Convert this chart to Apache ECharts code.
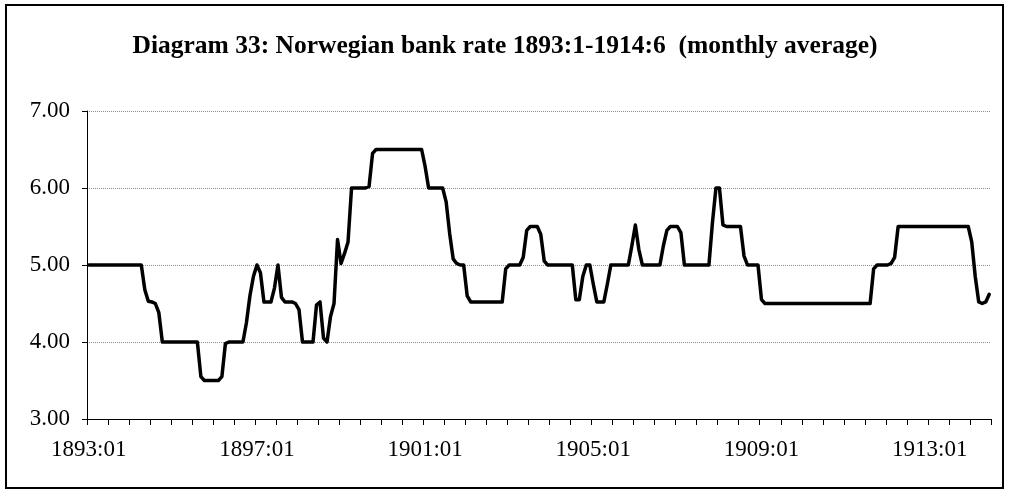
<!DOCTYPE html>
<html>
<head>
<meta charset="utf-8">
<script src="https://cdn.jsdelivr.net/npm/echarts@6/dist/echarts.min.js"></script>
<style>
  html, body { margin: 0; padding: 0; background: #ffffff; }
  #chart { width: 1010px; height: 493px; }
</style>
</head>
<body>
<div id="chart"></div>
<script>
// Norwegian bank rate, monthly averages, 1893:01 - 1914:06 (one row per year)
const rate1893 = [5.00, 5.00, 5.00, 5.00, 5.00, 5.00, 5.00, 5.00, 5.00, 5.00, 5.00, 5.00];
const rate1894 = [5.00, 5.00, 5.00, 5.00, 4.68, 4.53, 4.52, 4.50, 4.38, 4.00, 4.00, 4.00];
const rate1895 = [4.00, 4.00, 4.00, 4.00, 4.00, 4.00, 4.00, 4.00, 3.55, 3.50, 3.50, 3.50];
const rate1896 = [3.50, 3.50, 3.55, 3.98, 4.00, 4.00, 4.00, 4.00, 4.00, 4.25, 4.60, 4.85];
const rate1897 = [5.00, 4.90, 4.52, 4.52, 4.52, 4.70, 5.00, 4.58, 4.52, 4.52, 4.52, 4.50];
const rate1898 = [4.42, 4.00, 4.00, 4.00, 4.00, 4.48, 4.52, 4.05, 4.00, 4.33, 4.50, 5.33];
const rate1899 = [5.02, 5.15, 5.30, 6.00, 6.00, 6.00, 6.00, 6.00, 6.02, 6.45, 6.50, 6.50];
const rate1900 = [6.50, 6.50, 6.50, 6.50, 6.50, 6.50, 6.50, 6.50, 6.50, 6.50, 6.50, 6.50];
const rate1901 = [6.28, 6.00, 6.00, 6.00, 6.00, 6.00, 5.82, 5.41, 5.08, 5.02, 5.00, 5.00];
const rate1902 = [4.60, 4.52, 4.52, 4.52, 4.52, 4.52, 4.52, 4.52, 4.52, 4.52, 4.52, 4.95];
const rate1903 = [5.00, 5.00, 5.00, 5.00, 5.10, 5.45, 5.50, 5.50, 5.50, 5.40, 5.05, 5.00];
const rate1904 = [5.00, 5.00, 5.00, 5.00, 5.00, 5.00, 5.00, 4.55, 4.55, 4.85, 5.00, 5.00];
const rate1905 = [4.75, 4.52, 4.52, 4.52, 4.75, 5.00, 5.00, 5.00, 5.00, 5.00, 5.00, 5.25];
const rate1906 = [5.52, 5.20, 5.00, 5.00, 5.00, 5.00, 5.00, 5.00, 5.25, 5.45, 5.50, 5.50];
const rate1907 = [5.50, 5.42, 5.00, 5.00, 5.00, 5.00, 5.00, 5.00, 5.00, 5.00, 5.55, 6.00];
const rate1908 = [6.00, 5.52, 5.50, 5.50, 5.50, 5.50, 5.50, 5.12, 5.00, 5.00, 5.00, 5.00];
const rate1909 = [4.55, 4.50, 4.50, 4.50, 4.50, 4.50, 4.50, 4.50, 4.50, 4.50, 4.50, 4.50];
const rate1910 = [4.50, 4.50, 4.50, 4.50, 4.50, 4.50, 4.50, 4.50, 4.50, 4.50, 4.50, 4.50];
const rate1911 = [4.50, 4.50, 4.50, 4.50, 4.50, 4.50, 4.50, 4.50, 4.95, 5.00, 5.00, 5.00];
const rate1912 = [5.00, 5.02, 5.10, 5.50, 5.50, 5.50, 5.50, 5.50, 5.50, 5.50, 5.50, 5.50];
const rate1913 = [5.50, 5.50, 5.50, 5.50, 5.50, 5.50, 5.50, 5.50, 5.50, 5.50, 5.50, 5.50];
const rate1914 = [5.30, 4.85, 4.52, 4.50, 4.52, 4.62];

const bankRate = [].concat(
  rate1893, rate1894, rate1895, rate1896, rate1897, rate1898, rate1899, rate1900,
  rate1901, rate1902, rate1903, rate1904, rate1905, rate1906, rate1907, rate1908,
  rate1909, rate1910, rate1911, rate1912, rate1913, rate1914
);

// Month labels "YYYY:MM" from 1893:01 to 1914:06
const firstYear = 1893;
const months = [];
for (let i = 0; i < bankRate.length; i++) {
  const y = firstYear + Math.floor(i / 12);
  const m = (i % 12) + 1;
  months.push(y + ':' + (m < 10 ? '0' + m : '' + m));
}

const yTicks = [3, 4, 5, 6, 7];
const titleText = 'Diagram 33: Norwegian bank rate 1893:1-1914:6  (monthly average)';

const serif = '"Liberation Serif", "Times New Roman", serif';

const chart = echarts.init(document.getElementById('chart'), null, { renderer: 'canvas' });
chart.setOption({
  backgroundColor: '#ffffff',
  animation: false,
  title: {
    text: titleText,
    left: 'center',
    top: 28,
    textStyle: {
      fontFamily: serif,
      fontWeight: 'bold',
      fontSize: 25.5,
      color: '#000000'
    }
  },
  graphic: [{
    type: 'rect',
    shape: { x: 6, y: 5, width: 997, height: 483 },
    style: { fill: 'none', stroke: '#000000', lineWidth: 2 },
    silent: true
  }],
  grid: { left: 87, right: 19, top: 111, bottom: 74 },
  xAxis: {
    type: 'category',
    data: months,
    boundaryGap: true,
    axisLine: { show: true, lineStyle: { color: '#000000', width: 1 } },
    axisTick: { show: true, interval: 5, length: 6, lineStyle: { color: '#000000' } },
    axisLabel: {
      interval: 47,
      margin: 19,
      fontFamily: serif,
      fontSize: 23,
      color: '#000000'
    },
    splitLine: { show: false }
  },
  yAxis: {
    type: 'value',
    min: yTicks[0],
    max: yTicks[yTicks.length - 1],
    interval: 1,
    axisLine: { show: true, lineStyle: { color: '#000000', width: 1 } },
    axisTick: { show: true, length: 5, lineStyle: { color: '#000000' } },
    axisLabel: {
      margin: 17,
      fontFamily: serif,
      fontSize: 23,
      color: '#000000',
      formatter: v => v.toFixed(2)
    },
    splitLine: { show: true, lineStyle: { color: '#8c8c8c', type: 'dotted', width: 1 } }
  },
  series: [{
    type: 'line',
    data: bankRate,
    showSymbol: false,
    symbol: 'none',
    lineStyle: { color: '#000000', width: 3.5, join: 'round', cap: 'round' },
    z: 5
  }]
});
</script>
</body>
</html>
